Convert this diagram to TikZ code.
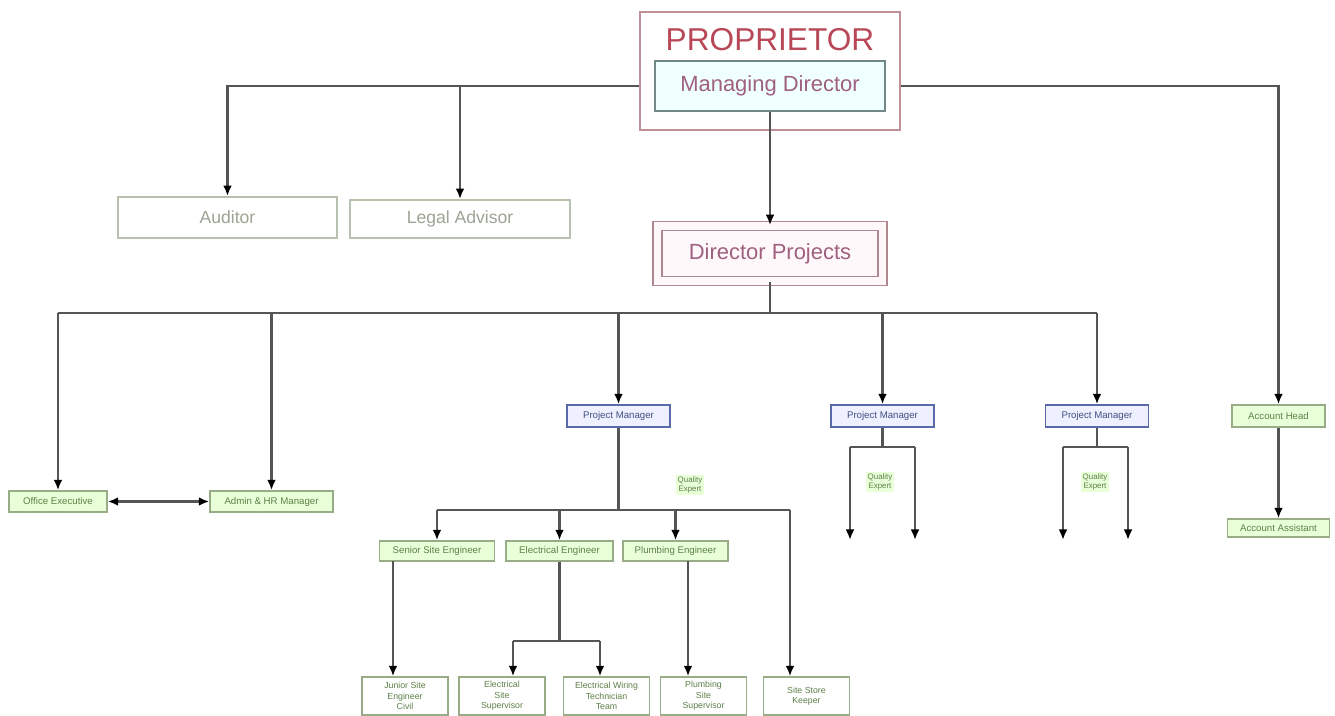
\documentclass[tikz,border=0pt]{standalone}
\usepackage{fontspec}
\setmainfont{Liberation Sans}
\usepackage{xcolor}
\usepackage{tikz}
\usetikzlibrary{arrows.meta}

\definecolor{propline}{HTML}{C09098}
\definecolor{proptext}{HTML}{B84858}
\definecolor{mdline}{HTML}{708888}
\definecolor{mdfill}{HTML}{F0FFFF}
\definecolor{mdtext}{HTML}{A06080}
\definecolor{greyline}{HTML}{B8C0B0}
\definecolor{greytext}{HTML}{9CA494}
\definecolor{dpline}{HTML}{B08890}
\definecolor{dpfill}{HTML}{FFF8FA}
\definecolor{grline}{HTML}{98AC88}
\definecolor{grfill}{HTML}{E8FFD8}
\definecolor{grtext}{HTML}{5E8048}
\definecolor{pmline}{HTML}{5A6AA8}
\definecolor{pmfill}{HTML}{EEF0FF}
\definecolor{pmtext}{HTML}{405080}
\definecolor{wire}{HTML}{555555}

\begin{document}
\begin{tikzpicture}[x=0.02cm,y=-0.02cm,
  wirel/.style={draw=wire,line width=1.3pt},
  arr/.style={wirel,-{Latex[length=6pt,width=5pt,color=black]}},
  both/.style={wirel,{Latex[length=6pt,width=5pt,color=black]}-{Latex[length=6pt,width=5pt,color=black]}},
  topbox/.style={draw=greyline,line width=1pt,fill=white,text=greytext,font=\fontsize{10}{12}\selectfont,inner sep=0pt},
  gbox/.style={draw=grline,line width=0.8pt,fill=grfill,text=grtext,font=\fontsize{5.5}{6.5}\selectfont,inner sep=0pt},
  bbox/.style={draw=grline,line width=0.8pt,fill=white,text=grtext,font=\fontsize{5}{6}\selectfont,inner sep=0pt,align=center,minimum width=1.72cm,minimum height=0.76cm},
  pmbox/.style={draw=pmline,line width=0.8pt,fill=pmfill,text=pmtext,font=\fontsize{5.5}{6.5}\selectfont,inner sep=0pt,minimum width=2.06cm,minimum height=0.44cm},
  qlabel/.style={fill=grfill,text=grtext,font=\fontsize{4.5}{5.2}\selectfont,inner sep=1pt,align=center}]

\useasboundingbox (0,0) rectangle (1335,716);

% top of the chart
\node[draw=propline,line width=1.2pt,fill=white,minimum width=5.2cm,minimum height=2.36cm] (prop) at (770,71) {};
\node[text=proptext,font=\fontsize{18}{20}\selectfont] (proptxt) at (770,40) {PROPRIETOR};
\node[draw=mdline,line width=1.2pt,fill=mdfill,text=mdtext,font=\fontsize{12.5}{14}\selectfont,minimum width=4.6cm,minimum height=1.0cm] (md) at (770,86) {Managing Director};

\node[topbox,minimum width=4.38cm,minimum height=0.82cm] (auditor) at (227.5,217.5) {Auditor};
\node[topbox,minimum width=4.4cm,minimum height=0.76cm] (legal) at (460,219) {Legal Advisor};

\node[draw=dpline,line width=0.9pt,double=dpfill,double distance=0.15cm,fill=dpfill,text=mdtext,font=\fontsize{12.5}{14}\selectfont,minimum width=4.5cm,minimum height=1.1cm] (dirproj) at (770,253.5) {Director Projects};

\draw[arr] (prop.west |- md.west) -| (auditor.north);
\draw[arr] (legal.north |- md.west) -- (legal.north);
\draw[arr] (md.south) -- (dirproj.north);

% second level
\coordinate (busL) at (58,313);
\coordinate (busR) at (1097,313);
\draw[wirel] (dirproj.south) -- (dirproj.south |- busL);
\draw[wirel] (busL) -- (busR);

\node[gbox,minimum width=1.96cm,minimum height=0.42cm] (office) at (58,501.5) {Office Executive};
\node[gbox,minimum width=2.46cm,minimum height=0.42cm] (admin) at (271.5,501.5) {Admin \& HR Manager};
\node[pmbox] (pma) at (618.5,416) {Project Manager};
\node[pmbox] (pmb) at (882.5,416) {Project Manager};
\node[pmbox] (pmc) at (1097,416) {Project Manager};
\node[gbox,minimum width=1.86cm,minimum height=0.44cm] (acch) at (1278.5,416) {Account Head};
\node[gbox,minimum width=2.04cm,minimum height=0.36cm] (acca) at (1278.5,528) {Account Assistant};

\draw[arr] (prop.east |- md.east) -| (acch.north);
\draw[arr] (busL) -- (office.north);
\draw[arr] (admin.north |- busL) -- (admin.north);
\draw[arr] (pma.north |- busL) -- (pma.north);
\draw[arr] (pmb.north |- busL) -- (pmb.north);
\draw[arr] (busR) -- (pmc.north);
\draw[both] (office.east) -- (admin.west);
\draw[arr] (acch.south) -- (acca.north);

\node[qlabel] (qa) at (690,485) {Quality\\Expert};
\node[qlabel] (qb) at (880,482) {Quality\\Expert};
\node[qlabel] (qc) at (1095,482) {Quality\\Expert};

% project manager 2 and 3
\coordinate (pbL) at (850,447);
\coordinate (pbR) at (915,447);
\draw[wirel] (pmb.south) -- (pmb.south |- pbL);
\draw[wirel] (pbL) -- (pbR);
\draw[arr] (pbL) -- (850,540);
\draw[arr] (pbR) -- (915,540);
\coordinate (pcL) at (1063,447);
\coordinate (pcR) at (1128,447);
\draw[wirel] (pmc.south) -- (pmc.south |- pcL);
\draw[wirel] (pcL) -- (pcR);
\draw[arr] (pcL) -- (1063,540);
\draw[arr] (pcR) -- (1128,540);

% project manager 1
\node[gbox,minimum width=2.3cm,minimum height=0.4cm] (senior) at (437,551) {Senior Site Engineer};
\node[gbox,minimum width=2.14cm,minimum height=0.4cm] (elec) at (559.5,551) {Electrical Engineer};
\node[gbox,minimum width=2.1cm,minimum height=0.4cm] (plumb) at (675.5,551) {Plumbing Engineer};

\node[bbox] (junior) at (405,696) {Junior Site\\Engineer\\Civil};
\node[bbox] (esup) at (502,696) {Electrical\\Site\\Supervisor};
\node[bbox] (etech) at (606.5,696) {Electrical Wiring\\Technician\\Team};
\node[bbox] (psup) at (703.5,696) {Plumbing\\Site\\Supervisor};
\node[bbox] (store) at (806.5,696) {Site Store\\Keeper};

\coordinate (rbL) at (437,510);
\coordinate (rbR) at (790,510);
\draw[wirel] (pma.south) -- (pma.south |- rbL);
\draw[wirel] (rbL) -- (rbR);
\draw[arr] (rbL) -- (senior.north);
\draw[arr] (elec.north |- rbL) -- (elec.north);
\draw[arr] (plumb.north |- rbL) -- (plumb.north);
\draw[arr] (rbR) -- (rbR |- store.north);

\coordinate (sd) at (393,561);
\draw[arr] (sd) -- (sd |- junior.north);
\coordinate (ebL) at (513,641);
\coordinate (ebR) at (600,641);
\draw[wirel] (elec.south) -- (elec.south |- ebL);
\draw[wirel] (ebL) -- (ebR);
\draw[arr] (ebL) -- (ebL |- esup.north);
\draw[arr] (ebR) -- (ebR |- etech.north);
\coordinate (pd) at (688,561);
\draw[arr] (pd) -- (pd |- psup.north);

\end{tikzpicture}
\end{document}
